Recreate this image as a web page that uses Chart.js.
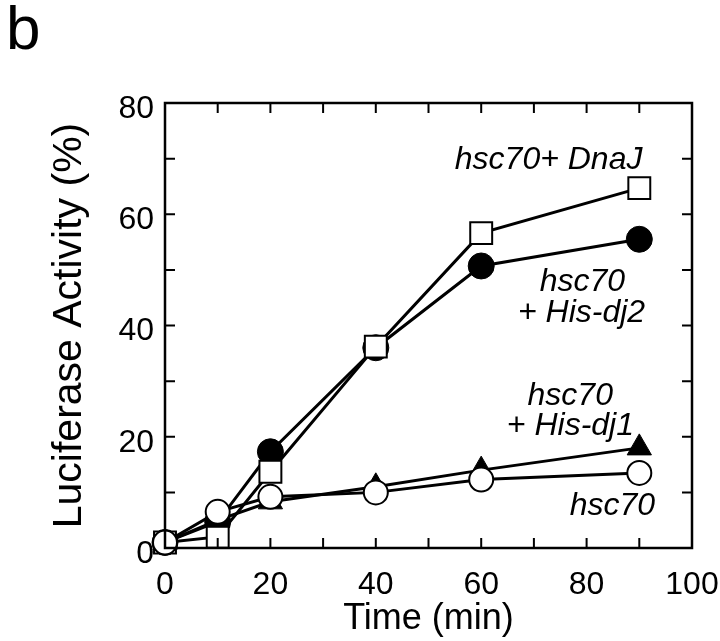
<!DOCTYPE html>
<html>
<head>
<meta charset="utf-8">
<script src="https://cdn.jsdelivr.net/npm/chart.js@4/dist/chart.umd.min.js"></script>
<style>
  html, body { margin: 0; padding: 0; background: #fff; }
  #wrap { position: relative; width: 720px; height: 641px; }
  #panel { position: absolute; left: 6px; top: -8px; line-height: 1; font: 62px "Liberation Sans", Arial, sans-serif; color: #000; }
</style>
</head>
<body>
<div id="wrap">
  <div id="panel">b</div>
  <canvas id="graphCanvas" width="720" height="641"></canvas>
</div>
<script>
// time points (min)
var times = [0, 10, 20, 40, 60, 90];

// luciferase activity (%)
var hsc70 = [1, 6.5, 9.2, 10, 12.3, 13.5];
var hsc70Dj1 = [1, 5, 8.3, 11, 14, 18];
var hsc70DnaJ = [1, 2, 13.7, 36.2, 56.6, 64.7];
var hsc70Dj2 = [1, 4.7, 17.3, 36, 50.7, 55.5];

var xTicks = [0, 20, 40, 60, 80, 100];
var yTicks = [0, 20, 40, 60, 80];

// label text, anchor (right edge, middle)
var notes = [
  { text: 'hsc70+ DnaJ', x: 90.6, y: 69.8 },
  { text: 'hsc70', x: 87.3, y: 47.8 },
  { text: '+ His-dj2', x: 91.1, y: 42.2 },
  { text: 'hsc70', x: 85, y: 27.3 },
  { text: '+ His-dj1', x: 89, y: 21.9 },
  { text: 'hsc70', x: 93, y: 7.5 }
];

function pts(vals) {
  var out = [];
  for (var i in times) {
    out.push({ x: times[i], y: vals[i] });
  }
  return out;
}

var font = '"Liberation Sans", Arial, Helvetica, sans-serif';

var frame = {
  id: 'frame',
  beforeDatasetsDraw: function (chart) {
    var ctx = chart.ctx;
    var xs = chart.scales.x, ys = chart.scales.y;
    ctx.save();
    ctx.fillStyle = '#000';
    ctx.font = 'italic 32px ' + font;
    ctx.textAlign = 'right';
    ctx.textBaseline = 'middle';
    notes.forEach(function (n) {
      ctx.fillText(n.text, xs.getPixelForValue(n.x), ys.getPixelForValue(n.y));
    });
    ctx.restore();
  },
  afterDatasetsDraw: function (chart) {
    var ctx = chart.ctx;
    var a = chart.chartArea;
    var xs = chart.scales.x, ys = chart.scales.y;
    ctx.save();
    ctx.strokeStyle = '#000';
    ctx.lineWidth = 2.5;
    ctx.strokeRect(a.left, a.top, a.right - a.left, a.bottom - a.top);
    ctx.lineWidth = 2;
    var len = 10;
    for (var v = 10; v < 100; v += 10) {
      var px = xs.getPixelForValue(v);
      ctx.beginPath();
      ctx.moveTo(px, a.bottom); ctx.lineTo(px, a.bottom - len);
      ctx.moveTo(px, a.top); ctx.lineTo(px, a.top + len);
      ctx.stroke();
    }
    for (var w = 10; w < 80; w += 10) {
      var py = ys.getPixelForValue(w);
      ctx.beginPath();
      ctx.moveTo(a.left, py); ctx.lineTo(a.left + len, py);
      ctx.moveTo(a.right, py); ctx.lineTo(a.right - len, py);
      ctx.stroke();
    }
    ctx.restore();
  }
};

var chartdata = {
  datasets: [
    {
      label: 'hsc70',
      data: pts(hsc70),
      borderColor: '#000',
      backgroundColor: '#fff',
      pointStyle: 'circle',
      pointRadius: 12,
      pointBorderWidth: 2
    },
    {
      label: 'hsc70 + His-dj1',
      data: pts(hsc70Dj1),
      borderColor: '#000',
      backgroundColor: '#000',
      pointStyle: 'triangle',
      pointRadius: 14,
      pointBorderWidth: 1
    },
    {
      label: 'hsc70+ DnaJ',
      data: pts(hsc70DnaJ),
      borderColor: '#000',
      backgroundColor: '#fff',
      pointStyle: 'rect',
      pointRadius: 15.5,
      pointBorderWidth: 2
    },
    {
      label: 'hsc70 + His-dj2',
      data: pts(hsc70Dj2),
      borderColor: '#000',
      backgroundColor: '#000',
      pointStyle: 'circle',
      pointRadius: 13,
      pointBorderWidth: 1
    }
  ]
};

new Chart(document.getElementById('graphCanvas'), {
  type: 'line',
  data: chartdata,
  options: {
    responsive: false,
    animation: false,
    clip: false,
    layout: { padding: { left: 45, top: 103, right: 28, bottom: 0 } },
    elements: { line: { borderWidth: 3, tension: 0 } },
    plugins: { legend: { display: false }, tooltip: { enabled: false } },
    scales: {
      x: {
        type: 'linear',
        min: 0,
        max: 100,
        afterBuildTicks: function (s) { s.ticks = xTicks.map(function (v) { return { value: v }; }); },
        afterFit: function (s) { s.height = 93; s.paddingLeft = 0; s.paddingRight = 0; },
        grid: { display: false, drawTicks: false },
        border: { display: false },
        ticks: { color: '#000', font: { family: font, size: 32 }, padding: 18, maxRotation: 0 },
        title: { display: true, text: 'Time (min)', color: '#000', font: { family: font, size: 36 }, padding: 0 }
      },
      y: {
        min: 0,
        max: 80,
        afterBuildTicks: function (s) { s.ticks = yTicks.map(function (v) { return { value: v }; }); },
        afterFit: function (s) { s.width = 120; },
        grid: { display: false, drawTicks: false },
        border: { display: false },
        ticks: {
          color: '#000',
          font: { family: font, size: 32, lineHeight: '12px' },
          padding: 11,
          // empty first line pushes the number a few px below its tick, as in the original
          callback: function (v) { return ['', String(v)]; }
        },
        title: { display: true, text: 'Luciferase Activity (%)', color: '#000', font: { family: font, size: 41 }, padding: 0 }
      }
    }
  },
  plugins: [frame]
});
</script>
</body>
</html>
